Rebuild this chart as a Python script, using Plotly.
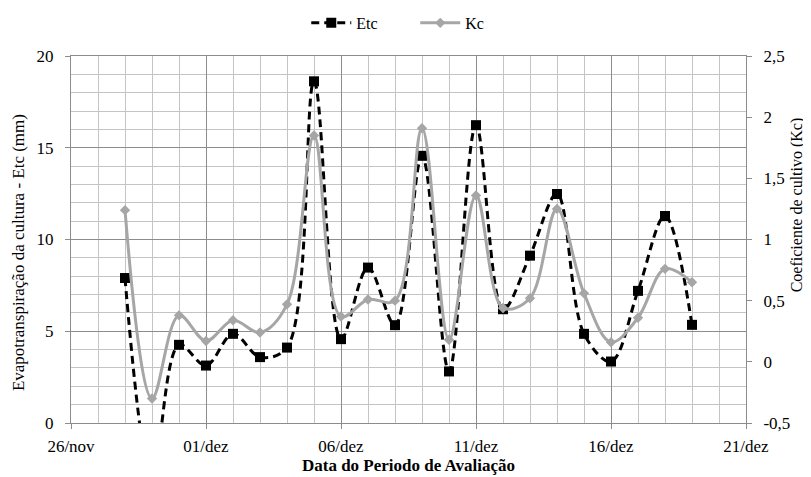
import plotly.graph_objects as go

dates = ["2012-11-28", "2012-11-29", "2012-11-30", "2012-12-01", "2012-12-02",
         "2012-12-03", "2012-12-04", "2012-12-05", "2012-12-06", "2012-12-07",
         "2012-12-08", "2012-12-09", "2012-12-10", "2012-12-11", "2012-12-12",
         "2012-12-13", "2012-12-14", "2012-12-15", "2012-12-16", "2012-12-17",
         "2012-12-18", "2012-12-19"]
etc = [7.9, -3.0, 4.26, 3.13, 4.86, 3.59, 4.11, 18.62, 4.57, 8.47, 5.33,
       14.56, 2.81, 16.23, 6.2, 9.12, 12.48, 4.86, 3.35, 7.2, 11.28, 5.35]
kc = [1.24, -0.30, 0.38, 0.17, 0.34, 0.24, 0.47, 1.85, 0.37, 0.51, 0.50,
      1.91, 0.18, 1.36, 0.44, 0.52, 1.25, 0.56, 0.16, 0.36, 0.76, 0.65]

x_tickvals = ["2012-11-26", "2012-12-01", "2012-12-06", "2012-12-11", "2012-12-16", "2012-12-21"]
x_ticktext = ["26/nov", "01/dez", "06/dez", "11/dez", "16/dez", "21/dez"]
y2_tickvals = [-0.5, 0, 0.5, 1, 1.5, 2, 2.5]
y2_ticktext = ["-0,5", "0", "0,5", "1", "1,5", "2", "2,5"]

FONT = "Liberation Serif"
GRAY = "#a6a6a6"
MAJ = "#8c8c8c"
MIN = "#c4c4c4"

fig = go.Figure()
fig.add_trace(go.Scatter(
    x=dates, y=etc, name="Etc", mode="lines+markers",
    line=dict(color="black", width=3, dash="8px,5px", shape="spline", smoothing=1),
    marker=dict(symbol="square", size=10, color="black"),
    yaxis="y"))
fig.add_trace(go.Scatter(
    x=dates, y=kc, name="Kc", mode="lines+markers",
    line=dict(color=GRAY, width=3, shape="spline", smoothing=1),
    marker=dict(symbol="diamond", size=8, color=GRAY),
    yaxis="y2"))

fig.update_layout(
    width=803, height=469,
    margin=dict(l=63, r=65, t=48, b=54, autoexpand=False),
    paper_bgcolor="white", plot_bgcolor="white",
    font=dict(family=FONT, size=16, color="black"),
    showlegend=True,
    legend=dict(orientation="h", x=0.51, xanchor="center", y=1.09, yanchor="middle",
                font=dict(family=FONT, size=16), itemwidth=40,
                entrywidth=54, entrywidthmode="pixels",
                bgcolor="rgba(0,0,0,0)"),
    xaxis=dict(
        type="date", range=["2012-11-26", "2012-12-21"],
        tickmode="array", tickvals=x_tickvals, ticktext=x_ticktext,
        showgrid=True, gridcolor=MAJ, gridwidth=1,
        showline=True, linecolor=MAJ, linewidth=1, mirror=True,
        ticks="outside", ticklen=5, tickcolor=MAJ, ticklabelstandoff=3,
        minor=dict(dtick=86400000, tick0="2012-11-26", showgrid=True, gridcolor=MIN, gridwidth=1, ticks=""),
        zeroline=False, automargin=False,
        title=dict(text="<b>Data do Periodo de Avaliação</b>", font=dict(family=FONT, size=17), standoff=1),
        tickfont=dict(family=FONT, size=17),
    ),
    yaxis=dict(
        range=[0, 20], dtick=5, tick0=0,
        showgrid=True, gridcolor=MAJ, gridwidth=1,
        showline=True, linecolor=MAJ, linewidth=1,
        ticks="outside", ticklen=5, tickcolor=MAJ, ticklabelstandoff=8,
        minor=dict(dtick=1, showgrid=True, gridcolor=MIN, gridwidth=1, ticks=""),
        zeroline=False, automargin=False,
        tickfont=dict(family=FONT, size=17),
    ),
    yaxis2=dict(
        overlaying="y", side="right",
        range=[-0.5, 2.5], tickmode="array", tickvals=y2_tickvals, ticktext=y2_ticktext,
        showgrid=False, zeroline=False, automargin=False,
        showline=True, linecolor=MAJ, linewidth=1,
        ticks="outside", ticklen=5, tickcolor=MAJ, ticklabelstandoff=8,
        tickfont=dict(family=FONT, size=17),
    ),
    annotations=[
        dict(text="Evapotranspiração da cultura - Etc (mm)", textangle=-90,
             xref="paper", yref="paper", x=-0.0785, y=0.463,
             xanchor="center", yanchor="middle", showarrow=False,
             font=dict(family=FONT, size=17)),
        dict(text="Coeficiente de cultivo (Kc)", textangle=-90,
             xref="paper", yref="paper", x=1.076, y=0.594,
             xanchor="center", yanchor="middle", showarrow=False,
             font=dict(family=FONT, size=16)),
    ],
)

fig.write_html("out.html")
